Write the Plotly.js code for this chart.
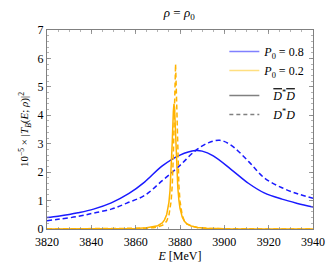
<!DOCTYPE html>
<html>
<head>
<meta charset="utf-8">
<script src="https://cdn.plot.ly/plotly-3.0.1.min.js"></script>
<style>html,body{margin:0;padding:0;background:#fff;}#chart{width:332px;height:272px;}</style>
</head>
<body>
<div id="chart"></div>
<script>
// Energy grids (MeV) and values (10^-5 |T_B|^2)
const E_blueSolid = [3820, 3825, 3830, 3834, 3841, 3849, 3857, 3864, 3872, 3880, 3887, 3890, 3895, 3903, 3911, 3918, 3926, 3933, 3940];
const V_blueSolid = [0.40, 0.45, 0.51, 0.57, 0.70, 0.92, 1.25, 1.65, 2.22, 2.60, 2.76, 2.74, 2.57, 2.10, 1.60, 1.27, 1.05, 0.90, 0.77];

const E_blueDash = [3820, 3825, 3834, 3841, 3849, 3856, 3864, 3872, 3880, 3887, 3893, 3898, 3903, 3911, 3918, 3926, 3933, 3940];
const V_blueDash = [0.29, 0.34, 0.44, 0.56, 0.70, 0.91, 1.18, 1.70, 2.24, 2.76, 3.04, 3.12, 2.95, 2.37, 1.80, 1.45, 1.24, 1.08];

const E_orSolid = [3820, 3840, 3850, 3860, 3865, 3868, 3870, 3872, 3873, 3874, 3875, 3875.5, 3876, 3876.5, 3877, 3877.3, 3877.6, 3878, 3878.5, 3879, 3879.5, 3880, 3881, 3882, 3883, 3885, 3888, 3892, 3900, 3910, 3920, 3940];
const V_orSolid = [0.00, 0.005, 0.008, 0.021, 0.042, 0.072, 0.116, 0.215, 0.32, 0.51, 0.94, 1.35, 2.03, 3.05, 4.14, 4.40, 4.14, 3.28, 2.20, 1.47, 1.01, 0.73, 0.42, 0.27, 0.19, 0.105, 0.055, 0.029, 0.012, 0.005, 0.003, 0.001];

const E_orDash = [3820, 3840, 3850, 3860, 3865, 3868, 3870, 3872, 3873, 3874, 3875, 3876, 3876.5, 3877, 3877.5, 3878, 3878.5, 3879, 3879.5, 3880, 3881, 3882, 3883, 3885, 3888, 3892, 3900, 3920, 3940];
const V_orDash = [0.001, 0.003, 0.006, 0.014, 0.028, 0.047, 0.073, 0.128, 0.18, 0.28, 0.48, 0.98, 1.53, 2.60, 4.43, 5.80, 4.43, 2.60, 1.53, 0.98, 0.48, 0.28, 0.18, 0.11, 0.047, 0.024, 0.010, 0.003, 0.001];

const xTicks = [3820, 3840, 3860, 3880, 3900, 3920, 3940];
const yTicks = [0, 1, 2, 3, 4, 5, 6, 7];

const BLUE = '#1a1aff';
const ORANGE = '#ffb300';
const FONT = '"Liberation Serif", "DejaVu Serif", serif';
const OL = s => '<span style="text-decoration:overline"><i>' + s + '</i></span>';

const traces = [
  {x: E_blueSolid, y: V_blueSolid, mode: 'lines', line: {color: BLUE, width: 1.5, shape: 'spline'}, showlegend: false, hoverinfo: 'skip'},
  {x: E_blueDash, y: V_blueDash, mode: 'lines', line: {color: BLUE, width: 1.5, dash: '5px,3px', shape: 'spline'}, showlegend: false, hoverinfo: 'skip'},
  {x: E_orSolid, y: V_orSolid, mode: 'lines', line: {color: ORANGE, width: 1.5}, showlegend: false, hoverinfo: 'skip'},
  {x: E_orDash, y: V_orDash, mode: 'lines', line: {color: ORANGE, width: 1.5, dash: '5px,3px'}, showlegend: false, hoverinfo: 'skip'},
  // legend entries
  {x: [null], y: [null], mode: 'lines', name: '<i>P</i><sub>0</sub> = 0.8', line: {color: '#8080ff', width: 1.5}, legendgroup: 'a'},
  {x: [null], y: [null], mode: 'lines', name: '<i>P</i><sub>0</sub> = 0.2', line: {color: '#ffdf80', width: 1.5}, legendgroup: 'a'},
  {x: [null], y: [null], mode: 'lines', name: '   ' + OL('D') + '<sup>*</sup>' + OL('D'), line: {color: '#808080', width: 1.5}, legendgroup: 'b'},
  {x: [null], y: [null], mode: 'lines', name: '   <i>D</i><sup>*</sup><i>D</i>', line: {color: '#808080', width: 1.5, dash: '4px,3px'}, legendgroup: 'b'}
];

const axisCommon = {
  showline: true, linecolor: '#808080', linewidth: 1, mirror: 'allticks',
  ticks: 'inside', ticklen: 4, tickcolor: '#808080', tickwidth: 0.8,
  showgrid: false, zeroline: false,
  tickfont: {family: FONT, size: 12, color: '#000'}
};

const layout = {
  width: 332, height: 272,
  margin: {l: 47, r: 19, t: 30, b: 43},
  paper_bgcolor: '#fff', plot_bgcolor: '#fff',
  font: {family: FONT, color: '#000'},
  title: {text: '<i>ρ</i> = <i>ρ</i><sub>0</sub>', font: {family: FONT, size: 13, color: '#000'}, x: 0.54, xanchor: 'center', y: 0.955, yanchor: 'middle'},
  xaxis: Object.assign({}, axisCommon, {
    range: [3820, 3940], tickvals: xTicks, ticktext: xTicks.map(String), ticklabelstandoff: 2,
    minor: {dtick: 5, ticks: 'inside', ticklen: 2, tickcolor: '#808080', tickwidth: 0.6},
    title: {text: '<i>E</i> [MeV]', font: {family: FONT, size: 12, color: '#000'}, standoff: 3}
  }),
  yaxis: Object.assign({}, axisCommon, {
    range: [0, 7], tickvals: yTicks, ticktext: yTicks.map(String),
    minor: {dtick: 0.2, ticks: 'inside', ticklen: 2, tickcolor: '#808080', tickwidth: 0.6},
    title: {text: '10<sup>−5</sup> × |<i>T<sub>B</sub></i>(<i>E</i>; <i>ρ</i>)|<sup>2</sup>', font: {family: FONT, size: 11, color: '#000'}, standoff: 6}
  }),
  legend: {x: 0.99, xanchor: 'right', y: 0.965, yanchor: 'top', bgcolor: 'rgba(0,0,0,0)', borderwidth: 0,
    font: {family: FONT, size: 12, color: '#000'}, tracegroupgap: 6, itemwidth: 30},
  showlegend: true
};

Plotly.newPlot('chart', traces, layout, {displayModeBar: false, staticPlot: true});
</script>
</body>
</html>
